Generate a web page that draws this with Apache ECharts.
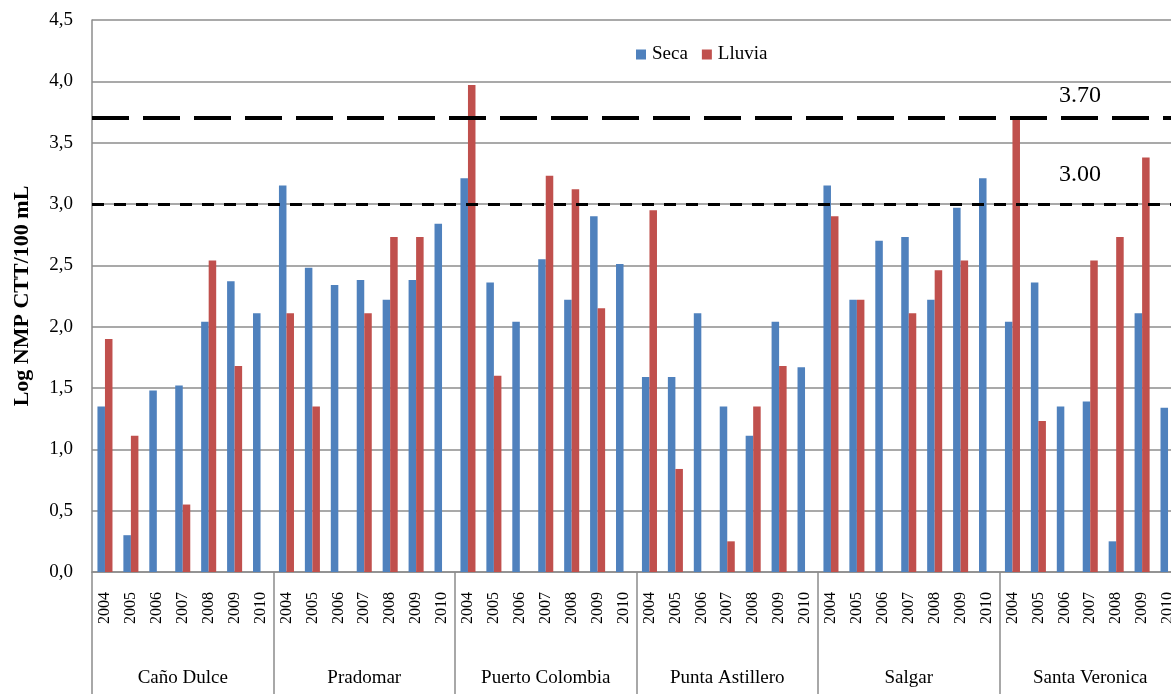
<!DOCTYPE html>
<html>
<head>
<meta charset="utf-8">
<script src="https://cdn.jsdelivr.net/npm/echarts@6/dist/echarts.min.js"></script>
<style>html,body{margin:0;padding:0;background:#fff}#c{width:1171px;height:694px}</style>
</head>
<body>
<div id="c"></div>
<script>
var sites = ['Caño Dulce', 'Pradomar', 'Puerto Colombia', 'Punta Astillero', 'Salgar', 'Santa Veronica'];
var years = ['2004', '2005', '2006', '2007', '2008', '2009', '2010'];
var yTicks = ['0,0','0,5','1,0','1,5','2,0','2,5','3,0','3,5','4,0','4,5'];

var secaCanoDulce      = [1.35, 0.30, 1.48, 1.52, 2.04, 2.37, 2.11];
var lluviaCanoDulce    = [1.90, 1.11, null, 0.55, 2.54, 1.68, null];
var secaPradomar       = [3.15, 2.48, 2.34, 2.38, 2.22, 2.38, 2.84];
var lluviaPradomar     = [2.11, 1.35, null, 2.11, 2.73, 2.73, null];
var secaPuerto         = [3.21, 2.36, 2.04, 2.55, 2.22, 2.90, 2.51];
var lluviaPuerto       = [3.97, 1.60, null, 3.23, 3.12, 2.15, null];
var secaPunta          = [1.59, 1.59, 2.11, 1.35, 1.11, 2.04, 1.67];
var lluviaPunta        = [2.95, 0.84, null, 0.25, 1.35, 1.68, null];
var secaSalgar         = [3.15, 2.22, 2.70, 2.73, 2.22, 2.97, 3.21];
var lluviaSalgar       = [2.90, 2.22, null, 2.11, 2.46, 2.54, null];
var secaSanta          = [2.04, 2.36, 1.35, 1.39, 0.25, 2.11, 1.34];
var lluviaSanta        = [3.70, 1.23, null, 2.54, 2.73, 3.38, null];

var limitHigh = 3.70;
var limitLow = 3.00;

var categories = [];
sites.forEach(function(){ years.forEach(function(y){ categories.push(y); }); });
var seca = [].concat(secaCanoDulce, secaPradomar, secaPuerto, secaPunta, secaSalgar, secaSanta);
var lluvia = [].concat(lluviaCanoDulce, lluviaPradomar, lluviaPuerto, lluviaPunta, lluviaSalgar, lluviaSanta);
seca = seca.map(function(v){ return v == null ? '-' : v; });
lluvia = lluvia.map(function(v){ return v == null ? '-' : v; });

var serif = '"Liberation Serif", "DejaVu Serif", serif';
var chart = echarts.init(document.getElementById('c'), null, {renderer: 'canvas'});
chart.setOption({
  animation: false,
  textStyle: {fontFamily: serif},
  legend: {
    data: ['Seca', 'Lluvia'],
    left: 631, top: 40,
    itemWidth: 10, itemHeight: 10, itemGap: 14,
    icon: 'rect',
    textStyle: {fontFamily: serif, fontSize: 19, color: '#000', padding: [0, 0, 0, 1]}
  },
  grid: {left: 92, right: -10, top: 20, bottom: 122, containLabel: false, outerBoundsMode: 'none'},
  xAxis: [{
    type: 'category', data: categories, position: 'bottom',
    axisLine: {lineStyle: {color: '#8c8c8c', width: 1.5}},
    axisTick: {show: false},
    axisLabel: {rotate: 90, interval: 0, margin: 20, fontFamily: serif, fontSize: 16, color: '#000'}
  }, {
    type: 'category', data: sites, position: 'bottom',
    axisLine: {show: false},
    axisTick: {show: true, length: 122, lineStyle: {color: '#8c8c8c', width: 1.5}},
    axisLabel: {interval: 0, margin: 97, fontFamily: serif, fontSize: 19, color: '#000'}
  }],
  yAxis: {
    type: 'value', min: 0, max: 4.5, interval: 0.5,
    name: 'Log NMP CTT/100 mL', nameLocation: 'middle', nameGap: 59,
    nameTextStyle: {fontFamily: serif, fontSize: 22, fontWeight: 'bold', color: '#000'},
    axisLine: {show: true, lineStyle: {color: '#8c8c8c', width: 1.5}},
    axisTick: {show: false},
    axisLabel: {margin: 19, fontFamily: serif, fontSize: 19, color: '#000',
      formatter: function(v){ return yTicks[Math.round(v / 0.5)]; }},
    splitLine: {lineStyle: {color: '#8c8c8c', width: 1.5}}
  },
  series: [{
    name: 'Seca', type: 'bar', data: seca, xAxisIndex: 0,
    barGap: '0%', barCategoryGap: '42%',
    itemStyle: {color: '#4F81BD'},
    markLine: {
      silent: true, symbol: 'none',
      data: [
        {yAxis: limitHigh, lineStyle: {color: '#000', width: 4, type: [37, 14]},
          label: {formatter: '3.70', position: 'insideEndTop', distance: [80, 10], fontFamily: serif, fontSize: 24, color: '#000'}},
        {yAxis: limitLow, lineStyle: {color: '#000', width: 3, type: [12, 10]},
          label: {formatter: '3.00', position: 'insideEndTop', distance: [80, 17], fontFamily: serif, fontSize: 24, color: '#000'}}
      ]
    }
  }, {
    name: 'Lluvia', type: 'bar', data: lluvia, xAxisIndex: 0,
    barGap: '0%', barCategoryGap: '42%',
    itemStyle: {color: '#C0504D'}
  }]
});
</script>
</body>
</html>
